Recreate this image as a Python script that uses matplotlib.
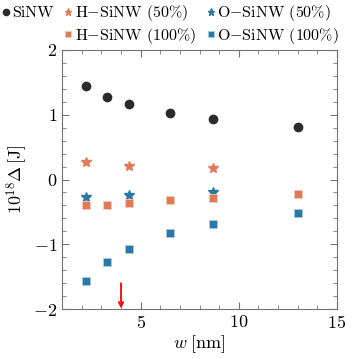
import matplotlib as mpl
mpl.use('Agg')
import matplotlib.pyplot as plt
import matplotlib.ticker as plticker
from matplotlib.lines import Line2D

mpl.rcParams['font.family'] = 'serif'
mpl.rcParams['font.serif'] = ['cmr10']
mpl.rcParams['mathtext.fontset'] = 'cm'
mpl.rcParams['axes.formatter.use_mathtext'] = True
mpl.rcParams['font.size'] = 13

# widths (nm)
w_all = [2.2, 3.3, 4.4, 6.5, 8.7, 13.0]
w_part = [2.2, 4.4, 8.7]

sinw = [1.44, 1.27, 1.16, 1.02, 0.93, 0.81]
h50 = [0.27, 0.21, 0.18]
o50 = [-0.27, -0.24, -0.20]
h100 = [-0.40, -0.39, -0.36, -0.31, -0.28, -0.23]
o100 = [-1.57, -1.27, -1.08, -0.83, -0.68, -0.52]

arrow_w = 4.0

cdark = '#2b2b2b'
corange = '#e07b59'
cblue = '#2a78a6'

fig = plt.figure(figsize=(3.57, 3.59), dpi=100)
ax = fig.add_axes([0.174, 0.139, 0.77, 0.722])

ax.plot(w_all, sinw, 'o', color=cdark, ms=6, label='SiNW')
ax.plot(w_part, h50, '*', color=corange, ms=7, label=r'H$-$SiNW (50%)')
ax.plot(w_part, o50, '*', color=cblue, ms=7, label=r'O$-$SiNW (50%)')
ax.plot(w_all, h100, 's', color=corange, ms=5.5, mec='#f3c9b8', mew=0.6, label=r'H$-$SiNW (100%)')
ax.plot(w_all, o100, 's', color=cblue, ms=5.5, mec='#a9cbe0', mew=0.6, label=r'O$-$SiNW (100%)')

ax.annotate('', xy=(arrow_w, -1.99), xytext=(arrow_w, -1.6),
            arrowprops=dict(arrowstyle='->', color='red', lw=1.3, shrinkA=0, shrinkB=0,
                            mutation_scale=8))

ax.set_xlim(1, 15)
ax.set_ylim(-2, 2)
ax.xaxis.set_major_locator(plticker.MultipleLocator(5))
ax.xaxis.set_minor_locator(plticker.MultipleLocator(1))
ax.yaxis.set_major_locator(plticker.MultipleLocator(1))
ax.yaxis.set_minor_locator(plticker.MultipleLocator(0.2))
ax.tick_params(which='both', direction='in', top=True, right=True, color='0.45')
ax.tick_params(which='major', length=5)
ax.tick_params(which='minor', length=3)
for s in ax.spines.values():
    s.set_color('0.45')

ax.set_xlabel(r'$w\;[\mathrm{nm}]$', labelpad=2)
ax.set_ylabel(r'$10^{18}\Delta\,[\mathrm{J}]$', labelpad=2)

h = [l for l in ax.get_lines()]
blank = Line2D([], [], linestyle='none')
handles = [h[0], blank, h[1], h[3], h[2], h[4]]
labels = ['SiNW', '', r'H$-$SiNW (50%)', r'H$-$SiNW (100%)', r'O$-$SiNW (50%)', r'O$-$SiNW (100%)']
fig.legend(handles, labels, ncol=3, loc='upper left', bbox_to_anchor=(-0.005, 1.0),
           frameon=False, handletextpad=0.1, columnspacing=0.6, handlelength=0.6,
           labelspacing=0.15, borderaxespad=0, borderpad=0.2, fontsize=11.5,
           markerscale=0.75)

fig.savefig('out.png', dpi=100)
